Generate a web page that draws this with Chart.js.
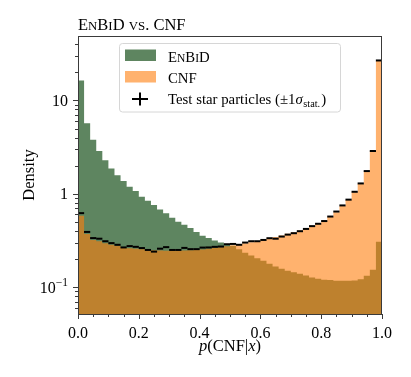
<!DOCTYPE html>
<html>
<head>
<meta charset="utf-8">
<script src="https://cdn.jsdelivr.net/npm/chart.js@4/dist/chart.umd.min.js"></script>
<style>
  body { margin: 0; background: #fff; }
  #caja { width: 411px; height: 377px; }
</style>
</head>
<body>
<div id="caja"><canvas id="grafica"></canvas></div>
<script>
// bordes de los 50 bins de p(CNF|x)
const binEdges = [0, 0.02, 0.04, 0.06, 0.08, 0.1, 0.12, 0.14, 0.16, 0.18,
                  0.2, 0.22, 0.24, 0.26, 0.28, 0.3, 0.32, 0.34, 0.36, 0.38,
                  0.4, 0.42, 0.44, 0.46, 0.48, 0.5, 0.52, 0.54, 0.56, 0.58,
                  0.6, 0.62, 0.64, 0.66, 0.68, 0.7, 0.72, 0.74, 0.76, 0.78,
                  0.8, 0.82, 0.84, 0.86, 0.88, 0.9, 0.92, 0.94, 0.96, 0.98, 1];

const enbid = [16.3, 5.7, 3.8, 2.88, 2.29, 1.87, 1.58, 1.37, 1.19, 1.07,
               0.93, 0.84, 0.76, 0.68, 0.62, 0.555, 0.50, 0.465, 0.43, 0.39,
               0.355, 0.335, 0.315, 0.30, 0.29, 0.277, 0.255, 0.234, 0.218, 0.204,
               0.191, 0.178, 0.166, 0.157, 0.15, 0.144, 0.139, 0.133, 0.127, 0.123,
               0.12, 0.119, 0.117, 0.117, 0.117, 0.118, 0.121, 0.132, 0.153, 0.307];

const cnf = [0.58, 0.37, 0.32, 0.31, 0.295, 0.285, 0.275, 0.265, 0.26, 0.258,
             0.255, 0.25, 0.248, 0.246, 0.245, 0.245, 0.245, 0.246, 0.248, 0.25,
             0.253, 0.257, 0.262, 0.268, 0.274, 0.28, 0.287, 0.295, 0.303, 0.312,
             0.322, 0.333, 0.345, 0.358, 0.372, 0.387, 0.405, 0.425, 0.45, 0.48,
             0.515, 0.565, 0.635, 0.74, 0.86, 1.04, 1.28, 1.74, 2.85, 26.5];

const testStars = [0.62, 0.39, 0.335, 0.33, 0.31, 0.296, 0.284, 0.266, 0.275, 0.27,
                   0.262, 0.25, 0.24, 0.258, 0.268, 0.25, 0.25, 0.263, 0.255, 0.255,
                   0.265, 0.266, 0.27, 0.272, 0.288, 0.29, 0.284, 0.3, 0.31, 0.31,
                   0.32, 0.334, 0.33, 0.348, 0.365, 0.378, 0.397, 0.42, 0.45, 0.477,
                   0.51, 0.57, 0.645, 0.75, 0.865, 1.05, 1.29, 1.75, 2.87, 26.8];

// ticks
const xTicks = [0, 0.05, 0.1, 0.15, 0.2, 0.25, 0.3, 0.35, 0.4, 0.45, 0.5,
                0.55, 0.6, 0.65, 0.7, 0.75, 0.8, 0.85, 0.9, 0.95, 1];
const xTickLabels = ['0.0', '', '', '', '0.2', '', '', '', '0.4', '', '',
                     '', '0.6', '', '', '', '0.8', '', '', '', '1.0'];
const yTicks = [0.06, 0.07, 0.08, 0.09, 0.1, 0.2, 0.3, 0.4, 0.5, 0.6, 0.7, 0.8, 0.9,
                1, 2, 3, 4, 5, 6, 7, 8, 9, 10, 20, 30, 40];
const yMajor = [0.1, 1, 10];
const yMajorLabels = [['10', '\u22121'], ['1', ''], ['10', '']];

const SERIF = '"Liberation Serif", "Times New Roman", serif';
const VERDE = 'rgb(94, 133, 96)';
const NARANJA = 'rgba(255, 127, 14, 0.6)';

// histograma escalonado: un punto en el borde izquierdo de cada bin y cierre en 1.0
function escalones(valores) {
    const pts = valores.map((v, i) => ({ x: binEdges[i], y: v }));
    pts.push({ x: binEdges[valores.length], y: valores[valores.length - 1] });
    return pts;
}
function centros(valores) {
    return valores.map((v, i) => ({ x: (binEdges[i] + binEdges[i + 1]) / 2, y: v }));
}

// texto en versalitas (EnBiD, vs.)
function versalitas(ctx, texto, x, y, size) {
    for (const ch of texto) {
        const minus = ch !== ch.toUpperCase();
        ctx.font = (minus ? size * 0.78 : size) + 'px ' + SERIF;
        const c = ch.toUpperCase();
        ctx.fillText(c, x, y);
        x += ctx.measureText(c).width;
    }
    return x;
}

function trozo(ctx, texto, x, y, font) {
    ctx.font = font;
    ctx.fillText(texto, x, y);
    return x + ctx.measureText(texto).width;
}

const decorado = {
    id: 'decorado',
    afterDraw(chart) {
        const ctx = chart.ctx;
        const a = chart.chartArea;
        const sx = chart.scales.x;
        const sy = chart.scales.y;
        ctx.save();

        // marco
        ctx.strokeStyle = '#3a3a3a';
        ctx.lineWidth = 1;
        ctx.strokeRect(a.left + 0.5, a.top + 0.5, a.right - a.left - 1, a.bottom - a.top);

        // marcas de los ejes
        ctx.beginPath();
        sx.ticks.forEach(t => {
            const px = Math.round(sx.getPixelForValue(t.value)) + 0.5;
            const len = t.major ? 5 : 3;
            ctx.moveTo(px, a.bottom);
            ctx.lineTo(px, a.bottom + len);
        });
        sy.ticks.forEach(t => {
            const py = Math.round(sy.getPixelForValue(t.value)) + 0.5;
            const len = t.major ? 5 : 3;
            ctx.moveTo(a.left, py);
            ctx.lineTo(a.left - len, py);
        });
        ctx.stroke();

        // etiquetas del eje y
        ctx.fillStyle = '#000';
        ctx.textBaseline = 'alphabetic';
        yMajor.forEach((v, i) => {
            const py = sy.getPixelForValue(v);
            const [base, expo] = yMajorLabels[i];
            ctx.font = '16px ' + SERIF;
            const wb = ctx.measureText(base).width;
            ctx.font = '11.5px ' + SERIF;
            const we = expo ? ctx.measureText(expo).width : 0;
            const right = a.left - 10;
            trozo(ctx, base, right - wb - we, py + 5.5, '16px ' + SERIF);
            if (expo) trozo(ctx, expo, right - we, py - 1, '11.5px ' + SERIF);
        });

        // titulo
        versalitas(ctx, 'EnBiD vs. CNF', a.left, 30, 16.5);

        // titulo eje x
        const partesX = [['p', 'italic '], ['(CNF|', ''], ['x', 'italic '], [')', '']];
        let anchoX = 0;
        partesX.forEach(([t, st]) => { ctx.font = st + '16.5px ' + SERIF; anchoX += ctx.measureText(t).width; });
        let xx = (a.left + a.right) / 2 - anchoX / 2;
        partesX.forEach(([t, st]) => { xx = trozo(ctx, t, xx, 351, st + '16.5px ' + SERIF); });

        // titulo eje y
        ctx.save();
        ctx.translate(34, (a.top + a.bottom) / 2);
        ctx.rotate(-Math.PI / 2);
        ctx.textAlign = 'center';
        ctx.font = '16.5px ' + SERIF;
        ctx.fillText('Density', 0, 0);
        ctx.restore();

        // leyenda
        const lx = 119.5, ly = 43.5, lw = 221, lh = 68.5, r = 3;
        ctx.beginPath();
        ctx.moveTo(lx + r, ly);
        ctx.arcTo(lx + lw, ly, lx + lw, ly + lh, r);
        ctx.arcTo(lx + lw, ly + lh, lx, ly + lh, r);
        ctx.arcTo(lx, ly + lh, lx, ly, r);
        ctx.arcTo(lx, ly, lx + lw, ly, r);
        ctx.closePath();
        ctx.fillStyle = 'rgba(255,255,255,0.8)';
        ctx.fill();
        ctx.strokeStyle = '#d6d6d6';
        ctx.lineWidth = 1;
        ctx.stroke();

        ctx.fillStyle = VERDE;
        ctx.fillRect(125, 49.5, 31, 11.5);
        ctx.fillStyle = NARANJA;
        ctx.fillRect(125, 71, 31, 11.5);
        ctx.strokeStyle = '#000';
        ctx.lineWidth = 2;
        ctx.beginPath();
        ctx.moveTo(132, 99); ctx.lineTo(148, 99);
        ctx.moveTo(140, 92.5); ctx.lineTo(140, 105.5);
        ctx.stroke();

        ctx.fillStyle = '#000';
        versalitas(ctx, 'EnBiD', 168, 61.5, 14.8);
        trozo(ctx, 'CNF', 168, 82.5, '14.8px ' + SERIF);
        let tx = trozo(ctx, 'Test star particles (\u00b11', 168, 104, '14.8px ' + SERIF);
        tx = trozo(ctx, '\u03c3', tx, 104, 'italic 14.8px ' + SERIF);
        tx = trozo(ctx, 'stat.', tx + 0.5, 107, '10.3px ' + SERIF);
        trozo(ctx, ')', tx + 1, 104, '14.8px ' + SERIF);

        ctx.restore();
    }
};

const grafica = new Chart(document.getElementById('grafica'), {
    type: 'line',
    data: {
        datasets: [
            {
                type: 'scatter',
                label: 'Test star particles',
                data: centros(testStars),
                pointStyle: 'line',
                pointRadius: 3.1,
                pointHoverRadius: 3.1,
                borderColor: '#000',
                backgroundColor: '#000',
                pointBorderWidth: 2,
                order: 0
            },
            {
                label: 'CNF',
                data: escalones(cnf),
                stepped: true,
                fill: 'start',
                backgroundColor: NARANJA,
                borderWidth: 0,
                pointRadius: 0,
                order: 1
            },
            {
                label: 'EnBiD',
                data: escalones(enbid),
                stepped: true,
                fill: 'start',
                backgroundColor: VERDE,
                borderWidth: 0,
                pointRadius: 0,
                order: 2
            }
        ]
    },
    options: {
        responsive: true,
        maintainAspectRatio: false,
        animation: false,
        events: [],
        layout: { padding: { top: 36, right: 29, left: 0, bottom: 0 } },
        plugins: { legend: { display: false }, tooltip: { enabled: false } },
        scales: {
            x: {
                type: 'linear',
                min: 0,
                max: 1,
                offset: false,
                grid: { display: false },
                border: { display: false },
                afterBuildTicks: s => { s.ticks = xTicks.map((v, i) => ({ value: v, major: xTickLabels[i] !== '' })); },
                afterFit: s => { s.height = 63; },
                ticks: {
                    autoSkip: false,
                    maxRotation: 0,
                    padding: 2,
                    color: '#000',
                    font: { family: SERIF, size: 16 },
                    callback: (v, i) => xTickLabels[i]
                }
            },
            y: {
                type: 'logarithmic',
                min: 0.0515,
                max: 49,
                grid: { display: false },
                border: { display: false },
                afterBuildTicks: s => { s.ticks = yTicks.map(v => ({ value: v, major: yMajor.includes(v) })); },
                afterFit: s => { s.width = 78; },
                ticks: { display: false }
            }
        }
    },
    plugins: [decorado]
});
</script>
</body>
</html>
